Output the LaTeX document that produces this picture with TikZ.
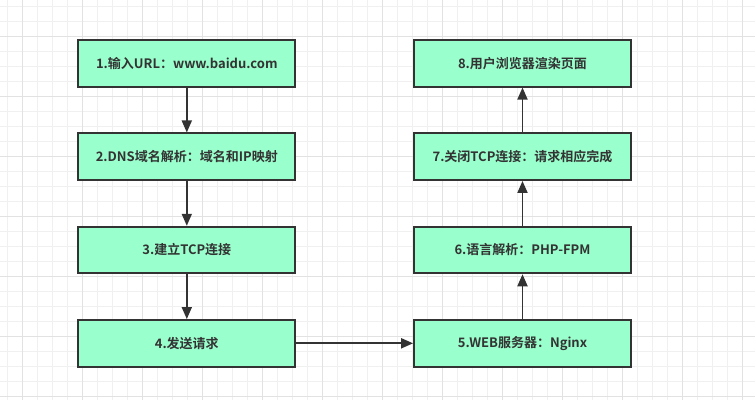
\documentclass[tikz,border=0pt]{standalone}
\usepackage{fontspec}
\newfontfamily\cjk{Noto Sans CJK SC}[BoldFont={* Bold}]
\usetikzlibrary{arrows.meta}
\definecolor{boxfill}{HTML}{99FFCC}
\definecolor{ink}{HTML}{333333}
\definecolor{minorgrid}{HTML}{F0F0F0}
\definecolor{majorgrid}{HTML}{E2E2E2}
\tikzset{
  stepbox/.style={draw=ink, line width=1.8pt, fill=boxfill, minimum width=217pt, minimum height=46.7pt,
    inner sep=0pt, font=\cjk\bfseries\fontsize{13}{15}\selectfont, text=ink},
  flow/.style={draw=ink, line width=1.8pt, -{Triangle[length=12pt,width=10pt]}}
}
\begin{document}
\begin{tikzpicture}[x=1pt,y=-1pt]
\fill[white] (0,0) rectangle (755,400);
\useasboundingbox (0,0) rectangle (755,400);
% minor grid
\foreach \x in {7,22,...,755} \draw[minorgrid, line width=0.9pt] (\x,0) -- (\x,400);
\foreach \y in {6,21,...,400} \draw[minorgrid, line width=0.9pt] (0,\y) -- (755,\y);
% major grid
\foreach \x in {22,82,...,755} \draw[majorgrid, line width=0.9pt] (\x,0) -- (\x,400);
\foreach \y in {36,96,...,400} \draw[majorgrid, line width=0.9pt] (0,\y) -- (755,\y);
% boxes
\node[stepbox] (n1) at (186.8,63.3) {1.输入URL：www.baidu.com};
\node[stepbox] (n2) at (186.8,156.7) {2.DNS域名解析：域名和IP映射};
\node[stepbox] (n3) at (186.8,250) {3.建立TCP连接};
\node[stepbox] (n4) at (186.8,343.3) {4.发送请求};
\node[stepbox] (n5) at (522.5,343.3) {5.WEB服务器：Nginx};
\node[stepbox] (n6) at (522.5,250) {6.语言解析：PHP-FPM};
\node[stepbox] (n7) at (522.5,156.7) {7.关闭TCP连接：请求相应完成};
\node[stepbox] (n8) at (522.5,63.3) {8.用户浏览器渲染页面};
% connectors
\draw[flow] (n1) -- (n2);
\draw[flow] (n2) -- (n3);
\draw[flow] (n3) -- (n4);
\draw[flow] (n4) -- (n5);
\draw[flow] (n5) -- (n6);
\draw[flow] (n6) -- (n7);
\draw[flow] (n7) -- (n8);
\end{tikzpicture}
\end{document}
